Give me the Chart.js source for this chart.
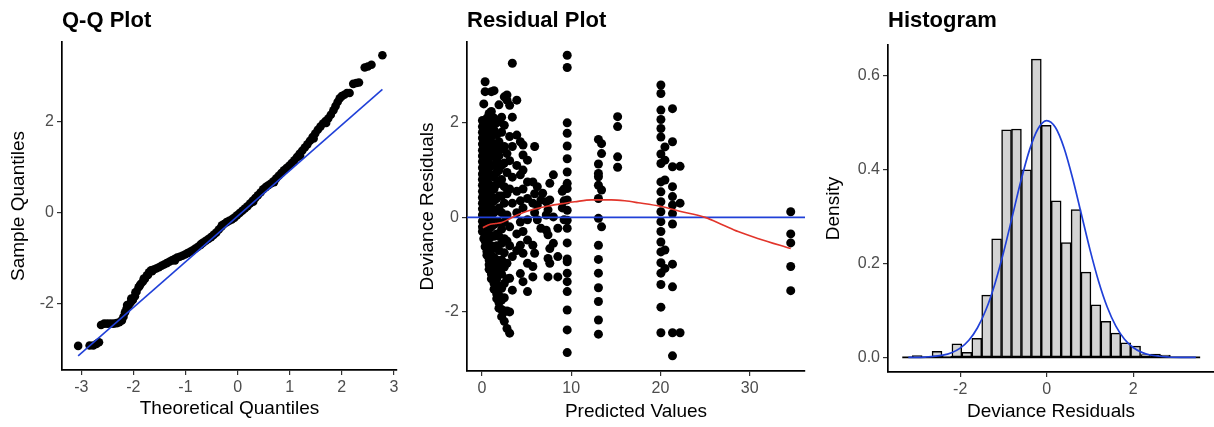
<!DOCTYPE html>
<html><head><meta charset="utf-8">
<script src="https://cdn.jsdelivr.net/npm/chart.js@4.4.1/dist/chart.umd.min.js"></script>
<style>
html,body{margin:0;padding:0;background:#fff;}
#wrap{position:relative;width:1214px;height:427px;overflow:hidden;background:#fff;}
canvas{position:absolute;top:0;}
</style></head><body>
<div id="wrap">
<canvas id="c1" width="405" height="427" style="left:0px;width:405px;height:427px"></canvas>
<canvas id="c2" width="405" height="427" style="left:405px;width:405px;height:427px"></canvas>
<canvas id="c3" width="404" height="427" style="left:810px;width:404px;height:427px"></canvas>
</div>
<script>
// ---------- Q-Q plot data ----------
const qqPoints = [[-3.06,-2.94],[-2.84,-2.93],[-2.77,-2.93],[-2.71,-2.90],[-2.66,-2.86],[-2.62,-2.48],[-2.56,-2.45],[-2.50,-2.45],[-2.44,-2.45],[-2.38,-2.45],[-2.32,-2.44],[-2.27,-2.42],[-2.22,-2.38],[-2.19,-2.30],[-2.16,-2.20],[-2.13,-2.12],[-2.09,-2.05],[-2.05,-1.98],[-2.01,-1.93],[-1.97,-1.85],[-1.94,-1.75],[-1.90,-1.65],[-1.86,-1.58],[-1.82,-1.53],[-1.78,-1.47],[-1.74,-1.39],[-1.70,-1.32],[-1.66,-1.28],[-1.61,-1.26],[-1.56,-1.24],[-1.51,-1.21],[-1.46,-1.18],[-1.41,-1.15],[-1.36,-1.12],[-1.31,-1.09],[-1.26,-1.06],[-1.21,-1.03],[-1.16,-1.00],[-1.11,-0.98],[-1.06,-0.96],[-1.01,-0.93],[-0.96,-0.90],[-0.91,-0.87],[-0.86,-0.84],[-0.81,-0.80],[-0.76,-0.76],[-0.71,-0.72],[-0.66,-0.67],[-0.61,-0.63],[-0.56,-0.59],[-0.51,-0.55],[-0.46,-0.50],[-0.41,-0.45],[-0.36,-0.38],[-0.31,-0.32],[-0.26,-0.26],[-0.21,-0.22],[-0.16,-0.19],[-0.11,-0.16],[-0.06,-0.12],[-0.01,-0.07],[0.04,-0.02],[0.09,0.03],[0.14,0.08],[0.19,0.13],[0.24,0.19],[0.29,0.25],[0.34,0.31],[0.39,0.37],[0.44,0.43],[0.49,0.50],[0.54,0.55],[0.59,0.59],[0.64,0.63],[0.69,0.68],[0.74,0.74],[0.79,0.80],[0.84,0.86],[0.89,0.92],[0.94,0.97],[0.99,1.02],[1.04,1.08],[1.09,1.14],[1.14,1.21],[1.19,1.28],[1.24,1.35],[1.29,1.42],[1.34,1.49],[1.39,1.57],[1.44,1.65],[1.49,1.73],[1.54,1.81],[1.59,1.88],[1.64,1.95],[1.69,2.00],[1.74,2.06],[1.79,2.14],[1.84,2.24],[1.88,2.33],[1.92,2.42],[1.96,2.50],[2.00,2.55],[2.05,2.58],[2.10,2.62],[2.15,2.62],[2.22,2.82],[2.28,2.84],[2.33,2.85],[2.44,3.18],[2.50,3.20],[2.57,3.24],[2.78,3.45],
 [-2.12,-2.04],[-2.04,-1.90],[-1.96,-1.76],[-1.88,-1.62],[-1.80,-1.46],[-1.72,-1.38],[-1.64,-1.30],[-1.20,-1.06],[-0.70,-0.70],[-0.30,-0.29],[0.30,0.23],[0.70,0.66],[1.20,1.24],[1.46,1.62],[1.70,1.96]];
const qqLineX = [-3.06, 2.78];
const qqLineY = [-3.16, 2.70];
const qqXTicks = [-3,-2,-1,0,1,2,3];
const qqYTicks = [-2,0,2];

// ---------- Residual plot data: [predicted value, [deviance residuals]] ----------
const residCloud = [
 [0.05,[2.05,1.92,1.8,1.68,1.55,1.42,1.3,1.18,1.05,0.92,0.8,0.68,0.55,0.42,0.3,0.18,0.05,-0.08,-0.2,-0.3]],
 [0.2,[2.4,2.0,1.85,1.7,1.5,1.35,1.2,1.0,0.85,0.7,0.5,0.35,0.2,0.0,-0.15,-0.3,-0.45]],
 [0.35,[2.87,2.66,1.95,1.75,1.6,1.4,1.25,1.1,0.9,0.75,0.6,0.4,0.25,0.1,-0.05,-0.2,-0.35,-0.5,-0.62]],
 [0.55,[2.1,1.9,1.7,1.5,1.3,1.15,0.95,0.8,0.6,0.45,0.3,0.1,-0.1,-0.3,-0.45,-0.6,-0.72,-0.8]],
 [0.8,[2.2,2.0,1.8,1.6,1.45,1.25,1.05,0.9,0.7,0.5,0.3,0.15,-0.05,-0.25,-0.45,-0.6,-0.75,-0.9,-1.0,-1.1]],
 [1.05,[2.66,2.24,1.9,1.7,1.5,1.3,1.1,0.9,0.65,0.45,0.2,0.0,-0.2,-0.4,-0.6,-0.8,-0.95,-1.1,-1.2,-1.3]],
 [1.35,[2.68,2.1,1.85,1.55,1.35,1.1,0.85,0.6,0.35,0.1,-0.15,-0.4,-0.65,-0.85,-1.05,-1.25,-1.4,-1.52]],
 [1.65,[2.0,1.75,1.45,1.2,0.95,0.7,0.4,0.15,-0.1,-0.35,-0.6,-0.9,-1.1,-1.3,-1.5,-1.62,-1.72]],
 [1.9,[2.38,2.05,1.6,1.3,1.0,0.75,0.45,0.2,-0.1,-0.4,-0.7,-1.0,-1.2,-1.45,-1.65,-1.8,-1.92]],
 [2.2,[2.12,1.8,1.45,1.1,0.8,0.45,0.1,-0.25,-0.55,-0.9,-1.2,-1.5,-1.75,-1.95,-2.1]],
 [2.5,[2.55,1.95,1.5,1.15,0.65,0.3,-0.1,-0.45,-0.75,-1.05,-1.4,-1.7,-2.0,-2.2]],
 [2.8,[2.59,2.48,1.35,0.95,0.5,0.05,-0.5,-0.97,-1.3,-1.98,-2.35]],
 [3.1,[2.37,1.71,1.2,0.6,-0.2,-0.6,-1.29,-2.0,-2.45]],
 [3.4,[3.26,2.12,1.5,0.85,0.3,-0.83,-1.54]],
 [3.9,[2.48,1.74,1.1,0.55,0.1,-0.35,-0.7]],
 [4.3,[1.6,0.9,0.35,-0.1,-0.59,-1.19]],
 [4.6,[1.53,1.32,1.0,0.6,0.2,-0.3,-0.76,-1.36]],
 [5.1,[1.21,0.75,0.4,-0.05,-0.48,-0.97,-1.57]],
 [5.7,[0.75,0.3,-0.59,-1.04,-1.26]],
 [5.9,[1.50,0.5,0.1,-0.76]],
 [6.2,[0.65,0.25,-0.05]],
 [6.6,[0.37,-0.23]],
 [6.8,[0.51]],
 [7.2,[0.33,0.05,-0.27]],
 [7.4,[0.16,-0.37,-0.87,-1.26]],
 [7.6,[0.72,0.37,-0.66,-0.97]],
 [8.0,[0.9,0.01,-0.55]],
 [8.5,[-0.23,-0.83,-1.26]],
 [9.0,[0.55,0.2]],
 [9.2,[0.6,0.35,-0.05]]
];
const residColumns = [
 [9.55,[3.43,3.17,2.00,1.78,1.51,1.24,0.96,0.72,0.61,0.37,0.15,-0.06,-0.23,-0.54,-0.88,-0.94,-1.18,-1.36,-1.57,-1.96,-2.38,-2.86]],
 [13.05,[1.65,1.13,0.93,0.86,0.68,0.40,-0.02,-0.59,-0.89,-1.18,-1.49,-1.78,-2.17,-2.47]],
 [13.4,[1.56,1.35,0.58,-0.20]],
 [15.2,[2.13,1.92,1.28,1.06]],
 [20.05,[2.80,2.62,2.27,2.07,1.88,1.70,1.34,1.14,0.75,0.54,0.33,0.12,-0.09,-0.30,-0.52,-0.73,-0.96,-1.18,-1.42,-1.90,-2.44]],
 [20.5,[1.49,1.21,0.79,-0.69,-1.08]],
 [21.35,[2.30,1.60,1.07,0.65,0.44,0.26,0.08,-0.14,-0.99,-1.47,-2.44,-2.93]],
 [22.2,[1.08,0.30,-2.44]],
 [34.6,[0.12,-0.35,-0.54,-1.04,-1.55]]
];
const loessX = [0.1,0.7,1.5,2.2,3.0,3.7,4.5,5.6,7.4,9.3,10.4,12.3,14.5,16.0,17.5,20.1,22.4,25.0,27.0,28.7,31.0,34.6];
const loessY = [-0.22,-0.16,-0.13,-0.11,-0.04,0.03,0.09,0.16,0.24,0.30,0.33,0.37,0.37,0.35,0.31,0.23,0.12,0.0,-0.16,-0.30,-0.45,-0.66];
const resXTicks = [0,10,20,30];
const resYTicks = [-2,0,2];

// ---------- Histogram data ----------
const histCenters = [-3.225,-2.995,-2.766,-2.536,-2.306,-2.077,-1.847,-1.617,-1.388,-1.158,-0.928,-0.699,-0.469,-0.239,-0.010,0.220,0.450,0.679,0.909,1.139,1.368,1.598,1.828,2.057,2.287,2.517,2.746,2.976,3.206,3.435];
const histDensity = [0,0.004,0,0.013,0.003,0.029,0.011,0.041,0.133,0.253,0.485,0.487,0.400,0.636,0.495,0.334,0.245,0.315,0.182,0.112,0.077,0.052,0.031,0.024,0.006,0.007,0.005,0,0,0];
const histBinWidth = 0.2297;
const normX = [-3.2,-2.8,-2.4,-2.2,-2.0,-1.8,-1.6,-1.4,-1.2,-1.0,-0.8,-0.6,-0.4,-0.2,0.0,0.2,0.4,0.6,0.8,1.0,1.2,1.4,1.6,1.8,2.0,2.2,2.4,2.8,3.2,3.45];
const normY = [0.0001,0.0009,0.0048,0.0101,0.0199,0.0366,0.0633,0.1027,0.1563,0.2231,0.2986,0.3749,0.4414,0.4875,0.505,0.4906,0.4471,0.3821,0.3063,0.2303,0.1624,0.1074,0.0667,0.0388,0.0212,0.0108,0.0052,0.001,0.0001,0.0];
const histXTicks = [-2,0,2];
const histYTicks = [0.0,0.2,0.4,0.6];

// ---------- helpers ----------
const FONT = "'Liberation Sans', Arial, Helvetica, sans-serif";
const BLUE = '#2040d8';
const RED = '#e2352b';

function axis(o) {
  return {
    type: 'linear', min: o.min, max: o.max, offset: false,
    afterBuildTicks: s => { s.ticks = o.ticks.map(v => ({value: v})); },
    afterFit: s => { if (o.width != null) s.width = o.width; if (o.height != null) s.height = o.height; },
    border: {display: true, color: '#000', width: 1.7},
    grid: {display: true, drawOnChartArea: false, drawTicks: true, tickLength: 5, color: '#333', lineWidth: 1.2, offset: false},
    ticks: {color: '#4d4d4d', font: {family: FONT, size: 16}, padding: 3, maxRotation: 0, autoSkip: false,
            callback: o.fmt || (v => String(v))},
    title: {display: true, text: o.title, color: '#000', font: {family: FONT, size: 19}, padding: o.tpad}
  };
}
function titleOpt(text, bottom) {
  return {display: true, text: text, align: 'start', fullSize: false, color: '#000',
          font: {family: FONT, size: 22, weight: 'bold'}, padding: {top: 8, bottom: bottom}};
}
function base(padRight, title, tb, scales) {
  return {
    responsive: false, animation: false, devicePixelRatio: 1, events: [],
    layout: {padding: {left: 0, right: padRight, top: 0, bottom: 0}},
    plugins: {legend: {display: false}, tooltip: {enabled: false}, title: titleOpt(title, tb)},
    scales: scales
  };
}

// ---------- Panel 1: Q-Q Plot ----------
new Chart(document.getElementById('c1'), {
  type: 'scatter',
  data: {datasets: [
    {type: 'line', data: qqLineX.map((x, i) => ({x: x, y: qqLineY[i]})), borderColor: BLUE, borderWidth: 1.6,
     pointRadius: 0, fill: false, order: 0},
    {data: qqPoints.map(p => ({x: p[0], y: p[1]})), backgroundColor: '#000', borderWidth: 0, pointRadius: 4.3, order: 1}
  ]},
  options: base(8, 'Q-Q Plot', 7.6, {
    x: axis({min: -3.37, max: 3.06, ticks: qqXTicks, height: 57, title: 'Theoretical Quantiles', tpad: {top: 0, bottom: 6.6}}),
    y: axis({min: -3.47, max: 3.74, ticks: qqYTicks, width: 62, title: 'Sample Quantiles', tpad: {top: 6.9, bottom: 0}})
  })
});

// ---------- Panel 2: Residual Plot ----------
const residPts = [];
residCloud.concat(residColumns).forEach(c => c[1].forEach(y => residPts.push({x: c[0], y: y})));
const resXMin = -1.68, resXMax = 36.2;
new Chart(document.getElementById('c2'), {
  type: 'scatter',
  data: {datasets: [
    {type: 'line', data: loessX.map((x, i) => ({x: x, y: loessY[i]})), borderColor: RED, borderWidth: 1.6,
     pointRadius: 0, fill: false, tension: 0.4, cubicInterpolationMode: 'monotone', order: 0},
    {type: 'line', data: [{x: resXMin, y: 0}, {x: resXMax, y: 0}], borderColor: BLUE, borderWidth: 1.6,
     pointRadius: 0, fill: false, order: 1},
    {data: residPts, backgroundColor: '#000', borderWidth: 0, pointRadius: 4.5, order: 2}
  ]},
  options: base(5, 'Residual Plot', 7.6, {
    x: axis({min: resXMin, max: resXMax, ticks: resXTicks, height: 56, title: 'Predicted Values', tpad: {top: 0, bottom: 3.6}}),
    y: axis({min: -3.25, max: 3.71, ticks: resYTicks, width: 62, title: 'Deviance Residuals', tpad: {top: 11.6, bottom: 0}})
  })
});

// ---------- Panel 3: Histogram ----------
const half = histBinWidth / 2;
new Chart(document.getElementById('c3'), {
  type: 'bar',
  data: {datasets: [
    {type: 'line', data: normX.map((x, i) => ({x: x, y: normY[i]})), borderColor: BLUE, borderWidth: 1.7,
     pointRadius: 0, fill: false, cubicInterpolationMode: 'monotone', order: 0},
    {type: 'line', data: [{x: histCenters[0] - half, y: 0}, {x: histCenters[histCenters.length - 1] + half, y: 0}],
     borderColor: '#000', borderWidth: 1.7, pointRadius: 0, fill: false, order: 1},
    {type: 'bar', data: histCenters.map((x, i) => ({x: x, y: histDensity[i]})), backgroundColor: '#d3d3d3',
     borderColor: '#000', borderWidth: 1.5, borderSkipped: false, barPercentage: 1, categoryPercentage: 1, order: 2}
  ]},
  options: base(0, 'Histogram', 10.6, {
    x: axis({min: -3.67, max: 3.87, ticks: histXTicks, height: 55, title: 'Deviance Residuals', tpad: {top: 0, bottom: 3.6}}),
    y: axis({min: -0.031, max: 0.666, ticks: histYTicks, width: 78, title: 'Density', tpad: {top: 12.6, bottom: 0},
             fmt: v => v.toFixed(1)})
  })
});
</script>
</body></html>
